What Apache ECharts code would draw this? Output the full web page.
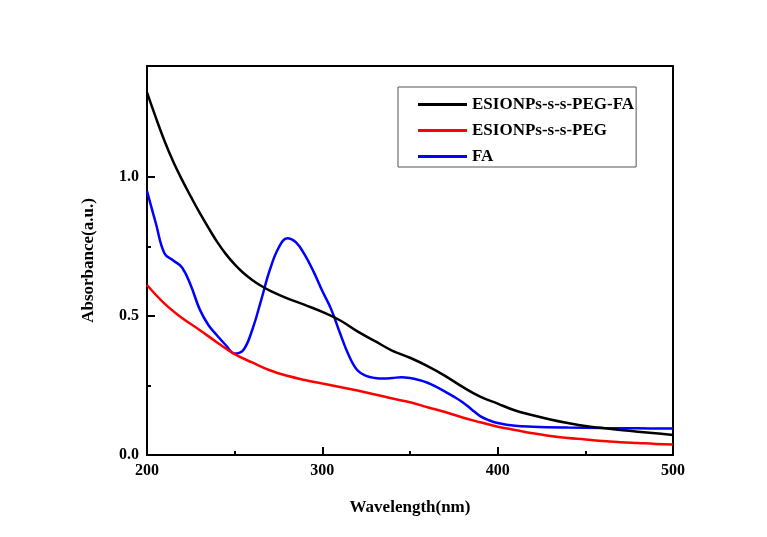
<!DOCTYPE html>
<html>
<head>
<meta charset="utf-8">
<script src="https://cdn.jsdelivr.net/npm/echarts@6/dist/echarts.min.js"></script>
<style>
  html, body { margin: 0; padding: 0; background: #fff; }
  #chart { width: 767px; height: 537px; }
</style>
</head>
<body>
<div id="chart"></div>
<script>
// wavelength (nm) / absorbance pairs
const pegFaX = [200, 205, 210, 215, 220, 225, 230, 235, 240, 245, 250, 255, 260, 265, 270, 280, 290, 300, 310, 320, 330, 340, 350, 360, 370, 380, 390, 400, 410, 420, 430, 440, 450, 460, 470, 480, 490, 500];
const pegFaY = [1.305, 1.215, 1.13, 1.055, 0.99, 0.93, 0.872, 0.818, 0.767, 0.723, 0.686, 0.655, 0.63, 0.609, 0.592, 0.564, 0.54, 0.515, 0.485, 0.445, 0.41, 0.375, 0.35, 0.32, 0.285, 0.245, 0.21, 0.185, 0.16, 0.143, 0.128, 0.115, 0.104, 0.097, 0.09, 0.084, 0.078, 0.072];

const pegX = [200, 210, 220, 230, 240, 250, 260, 270, 280, 290, 300, 310, 320, 330, 340, 350, 360, 370, 380, 390, 400, 410, 420, 430, 440, 450, 460, 470, 480, 490, 500];
const pegY = [0.612, 0.545, 0.493, 0.45, 0.405, 0.363, 0.333, 0.305, 0.285, 0.27, 0.257, 0.245, 0.232, 0.218, 0.203, 0.19, 0.172, 0.155, 0.135, 0.118, 0.102, 0.09, 0.078, 0.068, 0.061, 0.056, 0.05, 0.046, 0.043, 0.04, 0.038];

const faX = [200, 205, 210, 215, 220, 225, 230, 235, 240, 245, 250, 255, 260, 265, 270, 275, 280, 285, 290, 295, 300, 305, 310, 315, 320, 325, 330, 335, 340, 345, 350, 355, 360, 365, 370, 375, 380, 385, 390, 395, 400, 410, 420, 440, 460, 480, 500];
const faY = [0.95, 0.835, 0.725, 0.70, 0.675, 0.61, 0.525, 0.468, 0.43, 0.395, 0.365, 0.378, 0.45, 0.555, 0.665, 0.745, 0.78, 0.765, 0.72, 0.66, 0.59, 0.525, 0.44, 0.36, 0.305, 0.285, 0.277, 0.275, 0.277, 0.28, 0.277, 0.27, 0.26, 0.245, 0.228, 0.21, 0.19, 0.165, 0.14, 0.125, 0.115, 0.105, 0.102, 0.099, 0.097, 0.096, 0.095];

const xMajorTicks = [200, 300, 400, 500];
const xMinorTicks = [250, 350, 450];
const yMajorTicks = [0, 0.5, 1.0];
const yMinorTicks = [0.25, 0.75];

const seriesNames = ['ESIONPs-s-s-PEG-FA', 'ESIONPs-s-s-PEG', 'FA'];
const seriesColors = ['#000000', '#ff0000', '#0000ff'];

const FONT = '"Liberation Serif", "Times New Roman", serif';
const zip = (xs, ys) => xs.map((x, i) => [x, ys[i]]);

const chart = echarts.init(document.getElementById('chart'));

const axisLine = { show: true, onZero: false, lineStyle: { color: '#000', width: 2 } };
const labelStyle = { color: '#000', fontFamily: FONT, fontWeight: 'bold', fontSize: 16 };

chart.setOption({
  animation: false,
  backgroundColor: '#fff',
  grid: { left: 147, right: 94, top: 66, bottom: 82 },
  legend: {
    data: seriesNames,
    orient: 'vertical',
    left: 398,
    top: 87,
    padding: [9, 2, 2, 20],
    itemGap: 9,
    itemWidth: 49,
    itemHeight: 3,
    icon: 'rect',
    borderColor: '#555',
    borderWidth: 1,
    textStyle: { color: '#000', fontFamily: FONT, fontWeight: 'bold', fontSize: 17 }
  },
  xAxis: [
    {
      type: 'value', min: 200, max: 500, interval: 100,
      name: 'Wavelength(nm)', nameLocation: 'middle', nameGap: 44,
      nameTextStyle: { color: '#000', fontFamily: FONT, fontWeight: 'bold', fontSize: 17 },
      axisLine: axisLine,
      axisTick: { show: true, inside: true, length: 8, lineStyle: { color: '#000', width: 2 }, customValues: xMajorTicks },
      axisLabel: Object.assign({ margin: 8, customValues: xMajorTicks }, labelStyle),
      splitLine: { show: false }
    },
    {
      type: 'value', min: 200, max: 500, position: 'top',
      axisLine: axisLine, axisTick: { show: false }, axisLabel: { show: false }, splitLine: { show: false }
    },
    {
      type: 'value', min: 200, max: 500, position: 'bottom',
      axisLine: { show: false },
      axisTick: { show: true, inside: true, length: 4, lineStyle: { color: '#000', width: 2 }, customValues: xMinorTicks },
      axisLabel: { show: false }, splitLine: { show: false }
    }
  ],
  yAxis: [
    {
      type: 'value', min: 0, max: 1.4,
      name: 'Absorbance(a.u.)', nameLocation: 'middle', nameGap: 50, nameRotate: 90,
      nameTextStyle: { color: '#000', fontFamily: FONT, fontWeight: 'bold', fontSize: 17 },
      axisLine: axisLine,
      axisTick: { show: true, inside: true, length: 8, lineStyle: { color: '#000', width: 2 }, customValues: yMajorTicks },
      axisLabel: Object.assign({ margin: 8, customValues: yMajorTicks, formatter: v => v.toFixed(1) }, labelStyle),
      splitLine: { show: false }
    },
    {
      type: 'value', min: 0, max: 1.4, position: 'right',
      axisLine: axisLine, axisTick: { show: false }, axisLabel: { show: false }, splitLine: { show: false }
    },
    {
      type: 'value', min: 0, max: 1.4, position: 'left',
      axisLine: { show: false },
      axisTick: { show: true, inside: true, length: 4, lineStyle: { color: '#000', width: 2 }, customValues: yMinorTicks },
      axisLabel: { show: false }, splitLine: { show: false }
    }
  ],
  series: [
    { name: seriesNames[0], type: 'line', data: zip(pegFaX, pegFaY) },
    { name: seriesNames[1], type: 'line', data: zip(pegX, pegY) },
    { name: seriesNames[2], type: 'line', data: zip(faX, faY) }
  ].map((s, i) => Object.assign(s, {
    smooth: 0.4,
    symbol: 'none',
    color: seriesColors[i],
    lineStyle: { color: seriesColors[i], width: 2.5 },
    z: 3 - i
  }))
});
</script>
</body>
</html>
